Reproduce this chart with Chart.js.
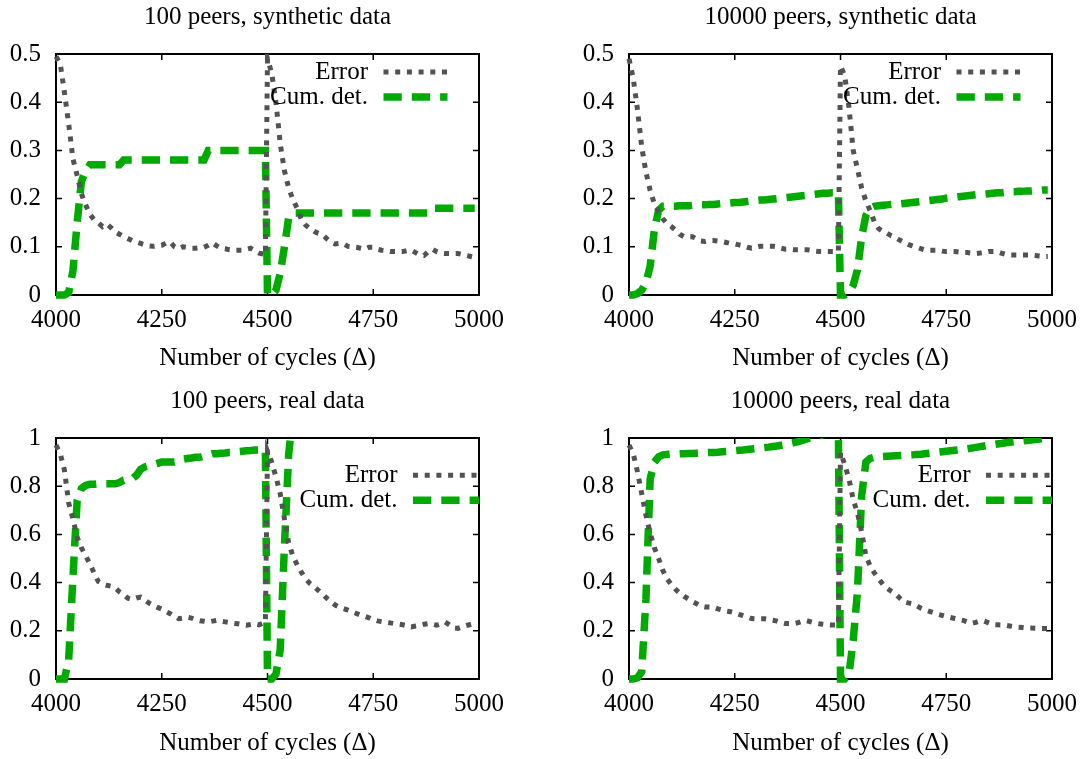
<!DOCTYPE html>
<html>
<head>
<meta charset="utf-8">
<script src="https://cdn.jsdelivr.net/npm/chart.js@4/dist/chart.umd.min.js"></script>
<style>
  html, body { margin: 0; padding: 0; background: #fff; }
  #sheet { position: relative; width: 1088px; height: 759px; overflow: hidden; }
  #sheet canvas { position: absolute; }
</style>
</head>
<body>
<div id="sheet">
  <canvas id="p1" width="544" height="380" style="left:0;top:0"></canvas>
  <canvas id="p2" width="544" height="380" style="left:544px;top:0"></canvas>
  <canvas id="p3" width="544" height="379" style="left:0;top:380px"></canvas>
  <canvas id="p4" width="544" height="379" style="left:544px;top:380px"></canvas>
</div>
<script>
// Sampled simulation cycles (an extra sample just before the reset at 4500)
const cycles = [
  4000,4010,4020,4030,4040,4050,4060,4070,4080,4090,
  4100,4110,4120,4130,4140,4150,4160,4170,4180,4190,
  4200,4210,4220,4230,4240,4250,4260,4270,4280,4290,
  4300,4310,4320,4330,4340,4350,4360,4370,4380,4390,
  4400,4410,4420,4430,4440,4450,4460,4470,4480,4490,
  4495,
  4500,4510,4520,4530,4540,4550,4560,4570,4580,4590,
  4600,4610,4620,4630,4640,4650,4660,4670,4680,4690,
  4700,4710,4720,4730,4740,4750,4760,4770,4780,4790,
  4800,4810,4820,4830,4840,4850,4860,4870,4880,4890,
  4900,4910,4920,4930,4940,4950,4960,4970,4980,4990
];

const xTicks = [4000, 4250, 4500, 4750, 5000];
const yTicksSynthetic = [0, 0.1, 0.2, 0.3, 0.4, 0.5];
const yTicksReal = [0, 0.2, 0.4, 0.6, 0.8, 1];

// 100 peers, synthetic data
const error100Synthetic = [
  0.495,0.48,0.42,0.355,0.283,0.248,0.21,0.187,0.168,0.156,
  0.15,0.142,0.147,0.14,0.131,0.126,0.121,0.117,0.113,0.11,
  0.107,0.104,0.102,0.101,0.102,0.103,0.108,0.11,0.1,0.096,
  0.1,0.099,0.097,0.097,0.098,0.099,0.103,0.108,0.102,0.097,
  0.096,0.094,0.093,0.093,0.093,0.095,0.097,0.092,0.087,0.085,
  0.083,
  0.49,0.46,0.4,0.315,0.258,0.222,0.198,0.18,0.157,0.145,
  0.138,0.132,0.128,0.125,0.117,0.11,0.106,0.107,0.106,0.101,
  0.1,0.099,0.097,0.095,0.099,0.099,0.095,0.093,0.092,0.09,
  0.09,0.09,0.09,0.092,0.093,0.088,0.083,0.082,0.09,0.095,
  0.09,0.087,0.086,0.086,0.086,0.086,0.084,0.082,0.08,0.078
];
const detection100Synthetic = [
  0,0,0,0.005,0.05,0.15,0.235,0.258,0.27,0.27,
  0.27,0.27,0.27,0.27,0.27,0.27,0.28,0.28,0.28,0.28,
  0.28,0.28,0.28,0.28,0.28,0.28,0.28,0.28,0.28,0.28,
  0.28,0.28,0.28,0.28,0.28,0.28,0.3,0.3,0.3,0.3,
  0.3,0.3,0.3,0.3,0.3,0.3,0.3,0.3,0.3,0.3,
  0.3,
  0,0,0.01,0.045,0.1,0.16,0.17,0.17,0.17,0.17,
  0.17,0.17,0.17,0.17,0.17,0.17,0.17,0.17,0.17,0.17,
  0.17,0.17,0.17,0.17,0.17,0.17,0.17,0.17,0.17,0.17,
  0.17,0.17,0.17,0.17,0.17,0.17,0.17,0.17,0.17,0.18,
  0.18,0.18,0.18,0.18,0.18,0.18,0.18,0.18,0.18,0.18
];

// 10000 peers, synthetic data
const error10kSynthetic = [
  0.49,0.45,0.385,0.308,0.255,0.217,0.189,0.172,0.158,0.148,
  0.142,0.135,0.126,0.121,0.121,0.121,0.116,0.112,0.111,0.113,
  0.113,0.112,0.111,0.109,0.107,0.106,0.104,0.102,0.099,0.097,
  0.099,0.101,0.101,0.101,0.101,0.1,0.097,0.095,0.095,0.094,
  0.094,0.094,0.094,0.093,0.091,0.09,0.09,0.09,0.09,0.09,
  0.09,
  0.475,0.455,0.39,0.3,0.262,0.222,0.195,0.175,0.152,0.138,
  0.132,0.128,0.123,0.119,0.114,0.109,0.105,0.102,0.099,0.096,
  0.093,0.093,0.093,0.093,0.091,0.09,0.09,0.09,0.089,0.088,
  0.088,0.087,0.086,0.087,0.088,0.09,0.09,0.09,0.087,0.084,
  0.083,0.083,0.083,0.083,0.083,0.083,0.082,0.081,0.08,0.08
];
const detection10kSynthetic = [
  0,0,0.003,0.01,0.025,0.06,0.135,0.176,0.184,0.184,
  0.184,0.184,0.185,0.185,0.185,0.186,0.186,0.187,0.187,0.188,
  0.188,0.189,0.19,0.19,0.191,0.192,0.192,0.193,0.194,0.195,
  0.196,0.197,0.197,0.198,0.199,0.2,0.201,0.202,0.203,0.204,
  0.205,0.206,0.207,0.208,0.209,0.21,0.211,0.211,0.212,0.212,
  0.212,
  0,0,0.005,0.02,0.052,0.12,0.165,0.18,0.184,0.185,
  0.186,0.187,0.188,0.188,0.189,0.19,0.191,0.192,0.193,0.194,
  0.195,0.196,0.197,0.198,0.199,0.201,0.202,0.203,0.204,0.205,
  0.206,0.207,0.208,0.208,0.209,0.21,0.211,0.212,0.212,0.213,
  0.214,0.214,0.215,0.215,0.216,0.216,0.217,0.217,0.218,0.218
];

// 100 peers, real data (detection leaves the plotted range after 4560)
const error100Real = [
  0.97,0.935,0.866,0.73,0.665,0.588,0.545,0.512,0.478,0.44,
  0.405,0.395,0.389,0.385,0.378,0.362,0.35,0.335,0.33,0.336,
  0.34,0.328,0.315,0.305,0.297,0.29,0.28,0.271,0.26,0.25,
  0.253,0.257,0.253,0.246,0.242,0.24,0.237,0.24,0.243,0.24,
  0.237,0.234,0.231,0.229,0.226,0.223,0.226,0.229,0.225,0.232,
  0.235,
  0.945,0.9,0.838,0.77,0.665,0.565,0.51,0.475,0.443,0.416,
  0.397,0.384,0.368,0.353,0.335,0.32,0.307,0.298,0.292,0.286,
  0.279,0.272,0.265,0.26,0.254,0.246,0.241,0.238,0.236,0.233,
  0.23,0.228,0.225,0.221,0.216,0.22,0.223,0.227,0.23,0.227,
  0.223,0.228,0.236,0.225,0.212,0.21,0.216,0.222,0.226,0.23
];
const detection100Real = [
  0,0,0,0.08,0.42,0.74,0.79,0.803,0.808,0.808,
  0.81,0.81,0.81,0.81,0.81,0.815,0.825,0.828,0.83,0.845,
  0.87,0.88,0.885,0.89,0.895,0.9,0.9,0.9,0.9,0.905,
  0.912,0.915,0.917,0.92,0.92,0.925,0.93,0.935,0.935,0.937,
  0.938,0.94,0.94,0.943,0.945,0.947,0.948,0.95,0.95,0.95,
  0.95,
  0,0,0.02,0.12,0.55,0.93,1.1,null,null,null,
  null,null,null,null,null,null,null,null,null,null,
  null,null,null,null,null,null,null,null,null,null,
  null,null,null,null,null,null,null,null,null,null,
  null,null,null,null,null,null,null,null,null,null
];

// 10000 peers, real data
const error10kReal = [
  0.97,0.935,0.86,0.77,0.68,0.605,0.545,0.5,0.45,0.415,
  0.392,0.372,0.356,0.344,0.332,0.321,0.312,0.302,0.299,0.299,
  0.298,0.291,0.286,0.282,0.279,0.275,0.268,0.263,0.257,0.251,
  0.25,0.25,0.25,0.247,0.244,0.24,0.234,0.23,0.23,0.23,
  0.234,0.24,0.242,0.237,0.232,0.229,0.227,0.225,0.224,0.224,
  0.224,
  0.94,0.89,0.83,0.745,0.69,0.61,0.51,0.47,0.44,0.416,
  0.393,0.377,0.364,0.353,0.336,0.32,0.316,0.313,0.304,0.294,
  0.287,0.281,0.275,0.269,0.264,0.259,0.255,0.251,0.247,0.243,
  0.237,0.231,0.235,0.241,0.24,0.233,0.226,0.225,0.224,0.223,
  0.22,0.217,0.215,0.214,0.212,0.212,0.211,0.21,0.21,0.21
];
const detection10kReal = [
  0,0,0.005,0.03,0.33,0.83,0.9,0.922,0.93,0.932,
  0.934,0.934,0.935,0.935,0.936,0.936,0.937,0.938,0.939,0.94,
  0.94,0.941,0.943,0.944,0.946,0.947,0.949,0.95,0.952,0.954,
  0.956,0.958,0.96,0.962,0.965,0.967,0.97,0.973,0.977,0.981,
  0.985,0.99,0.996,1.002,1.006,1.01,1.014,1.018,1.022,1.026,
  1.028,
  0,0,0.02,0.16,0.36,0.76,0.9,0.915,0.92,0.922,
  0.923,0.924,0.925,0.926,0.927,0.928,0.929,0.93,0.932,0.933,
  0.935,0.937,0.939,0.941,0.943,0.945,0.947,0.949,0.951,0.953,
  0.955,0.958,0.961,0.964,0.967,0.97,0.972,0.975,0.977,0.98,
  0.982,0.984,0.986,0.988,0.99,0.992,0.994,0.996,0.998,1.0
];

const SERIF = '"Liberation Serif", "Times New Roman", Times, serif';
const FONT_SIZE = 25;
const ERROR_COLOR = '#535353';
const DETECT_COLOR = '#00aa00';
const ERROR_DASH = [5, 6.7];
const DETECT_DASH = [18.3, 10];
const ERROR_WIDTH = 5;
const DETECT_WIDTH = 7.5;
const TICK_LEN = 6;

function toPoints(xs, ys) {
  return xs.map((x, i) => ({ x: x, y: ys[i] }));
}

// gnuplot-style frame: solid border with inward ticks mirrored on all sides
const framePlugin = {
  id: 'frame',
  beforeDatasetsDraw(chart) {
    const { ctx, chartArea: a, scales } = chart;
    const xs = scales.x, ys = scales.y;
    ctx.save();
    ctx.strokeStyle = '#000';
    ctx.lineWidth = 1.5;
    ctx.beginPath();
    xs.ticks.forEach(t => {
      const px = xs.getPixelForValue(t.value);
      ctx.moveTo(px, a.bottom); ctx.lineTo(px, a.bottom - TICK_LEN);
      ctx.moveTo(px, a.top); ctx.lineTo(px, a.top + TICK_LEN);
    });
    ys.ticks.forEach(t => {
      const py = ys.getPixelForValue(t.value);
      ctx.moveTo(a.left, py); ctx.lineTo(a.left + TICK_LEN, py);
      ctx.moveTo(a.right, py); ctx.lineTo(a.right - TICK_LEN, py);
    });
    ctx.stroke();
    ctx.lineWidth = 2;
    ctx.strokeRect(a.left, a.top, a.right - a.left, a.bottom - a.top);
    ctx.restore();
  }
};

// Key drawn inside the plot: label right-aligned, line sample to its right
const keyPlugin = {
  id: 'key',
  afterDatasetsDraw(chart, args, opts) {
    const { ctx, chartArea: a } = chart;
    const textRight = a.right - opts.textInset;
    const sampleStart = textRight + 15.5;
    const sampleEnd = a.right - opts.sampleInset;
    ctx.save();
    ctx.font = FONT_SIZE + 'px ' + SERIF;
    ctx.textAlign = 'right';
    ctx.textBaseline = 'middle';
    ctx.fillStyle = '#000';
    chart.data.datasets.forEach((ds, i) => {
      const y = opts.rows[i];
      ctx.fillText(ds.label, textRight, y);
      ctx.beginPath();
      ctx.strokeStyle = ds.borderColor;
      ctx.lineWidth = ds.borderWidth;
      ctx.lineCap = 'butt';
      ctx.setLineDash(ds.borderDash);
      ctx.moveTo(sampleStart, y);
      ctx.lineTo(sampleEnd, y);
      ctx.stroke();
    });
    ctx.restore();
  }
};

function makePanel(p) {
  const canvas = document.getElementById(p.id);
  const W = canvas.width, H = canvas.height;
  const lineH = FONT_SIZE * 1.2;
  const font = { family: SERIF, size: FONT_SIZE, weight: 'normal' };
  const clip = { left: 5, right: 5, top: 0, bottom: 5 };
  const noGrid = { display: false, drawTicks: false, tickLength: 0 };
  new Chart(canvas, {
    type: 'line',
    data: {
      datasets: [
        {
          label: 'Error',
          data: toPoints(cycles, p.error),
          borderColor: ERROR_COLOR,
          borderWidth: ERROR_WIDTH,
          borderDash: ERROR_DASH,
          borderCapStyle: 'butt',
          borderJoinStyle: 'miter',
          pointRadius: 0,
          tension: 0,
          fill: false,
          clip: clip
        },
        {
          label: 'Cum. det.',
          data: toPoints(cycles, p.detection),
          borderColor: DETECT_COLOR,
          borderWidth: DETECT_WIDTH,
          borderDash: DETECT_DASH,
          borderCapStyle: 'butt',
          borderJoinStyle: 'miter',
          pointRadius: 0,
          tension: 0,
          fill: false,
          clip: clip
        }
      ]
    },
    options: {
      responsive: false,
      animation: false,
      devicePixelRatio: 1,
      events: [],
      layout: { padding: { left: 0, right: W - p.right, top: 0, bottom: 0 } },
      plugins: {
        legend: { display: false },
        tooltip: { enabled: false },
        title: {
          display: true,
          text: p.title,
          fullSize: false,
          color: '#000',
          font: font,
          padding: { top: p.titleY - lineH / 2, bottom: p.top - (p.titleY - lineH / 2) - lineH }
        },
        key: p.key
      },
      scales: {
        x: {
          type: 'linear',
          min: 4000,
          max: 5000,
          afterBuildTicks: s => { s.ticks = xTicks.map(v => ({ value: v })); },
          ticks: {
            color: '#000',
            font: font,
            padding: 10.5,
            maxRotation: 0,
            autoSkip: false,
            callback: v => String(v)
          },
          grid: noGrid,
          border: { display: false },
          title: {
            display: true,
            text: 'Number of cycles (\u0394)',
            color: '#000',
            font: font,
            padding: { top: 0, bottom: (H - p.axisTitleY) - lineH / 2 }
          },
          afterFit: s => { s.height = H - p.bottom; }
        },
        y: {
          type: 'linear',
          min: 0,
          max: p.yTicks[p.yTicks.length - 1],
          afterBuildTicks: s => { s.ticks = p.yTicks.map(v => ({ value: v })); },
          ticks: {
            color: '#000',
            font: font,
            padding: 15,
            autoSkip: false,
            callback: v => String(Math.round(v * 10) / 10)
          },
          grid: noGrid,
          border: { display: false },
          afterFit: s => { s.width = p.left; }
        }
      }
    },
    plugins: [framePlugin, keyPlugin]
  });
}

const topKey = { rows: [72, 97], textInset: 111, sampleInset: 31.5 };
const bottomKey = { rows: [95.3, 120.3], textInset: 81.5, sampleInset: 0 };

makePanel({ id: 'p1', title: '100 peers, synthetic data', error: error100Synthetic, detection: detection100Synthetic,
  yTicks: yTicksSynthetic, left: 56, right: 479, top: 54, bottom: 295, titleY: 17.3, axisTitleY: 358, key: topKey });
makePanel({ id: 'p2', title: '10000 peers, synthetic data', error: error10kSynthetic, detection: detection10kSynthetic,
  yTicks: yTicksSynthetic, left: 85, right: 508, top: 54, bottom: 295, titleY: 17.3, axisTitleY: 358, key: topKey });
makePanel({ id: 'p3', title: '100 peers, real data', error: error100Real, detection: detection100Real,
  yTicks: yTicksReal, left: 56, right: 479, top: 58, bottom: 299, titleY: 21.7, axisTitleY: 363.3, key: bottomKey });
makePanel({ id: 'p4', title: '10000 peers, real data', error: error10kReal, detection: detection10kReal,
  yTicks: yTicksReal, left: 85, right: 508, top: 58, bottom: 299, titleY: 21.7, axisTitleY: 363.3, key: bottomKey });
</script>
</body>
</html>
